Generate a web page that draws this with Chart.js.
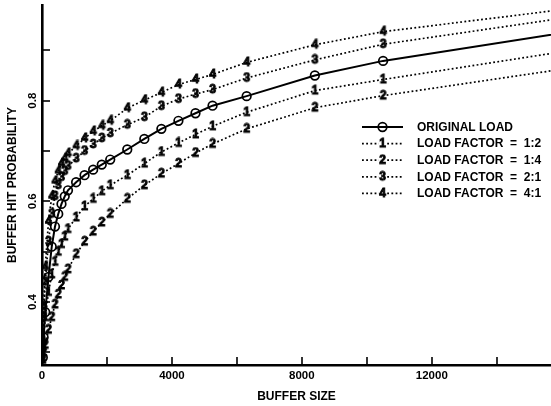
<!DOCTYPE html>
<html>
<head>
<meta charset="utf-8">
<script src="https://cdn.jsdelivr.net/npm/chart.js@4.4.0/dist/chart.umd.min.js"></script>
<style>
  html, body { margin: 0; padding: 0; background: #fff; }
</style>
</head>
<body>
<canvas id="chart" width="551" height="406"></canvas>
<script>
  // ============= DATA =============

  // buffer sizes where every curve was sampled
  const bufferSizes = [25, 50, 100, 200, 300, 400, 500, 600, 700, 800, 1050, 1310, 1575, 1840, 2100, 2625, 3150, 3675, 4200, 4725, 5250, 6300, 8400, 10500, 16800];

  const originalLoad = [0.29, 0.33, 0.38, 0.45, 0.51, 0.55, 0.575, 0.595, 0.61, 0.622, 0.638, 0.652, 0.663, 0.673, 0.683, 0.703, 0.724, 0.744, 0.760, 0.775, 0.790, 0.809, 0.850, 0.879, 0.942];
  const factor1to2 = [0.29, 0.33, 0.37, 0.42, 0.455, 0.48, 0.50, 0.515, 0.53, 0.545, 0.568, 0.59, 0.605, 0.62, 0.632, 0.652, 0.675, 0.698, 0.716, 0.733, 0.749, 0.777, 0.820, 0.842, 0.905];
  const factor1to4 = [0.285, 0.30, 0.315, 0.345, 0.37, 0.395, 0.415, 0.433, 0.45, 0.465, 0.495, 0.52, 0.54, 0.558, 0.575, 0.605, 0.632, 0.655, 0.675, 0.696, 0.714, 0.744, 0.786, 0.810, 0.870];
  const factor2to1 = [0.31, 0.37, 0.44, 0.52, 0.575, 0.61, 0.632, 0.648, 0.66, 0.67, 0.685, 0.70, 0.713, 0.725, 0.735, 0.752, 0.767, 0.789, 0.803, 0.813, 0.822, 0.845, 0.881, 0.912, 0.971];
  const factor4to1 = [0.32, 0.39, 0.47, 0.56, 0.61, 0.64, 0.66, 0.675, 0.685, 0.695, 0.71, 0.725, 0.739, 0.75, 0.76, 0.785, 0.801, 0.816, 0.832, 0.842, 0.852, 0.876, 0.911, 0.937, 0.987];

  const seriesLabels = ['ORIGINAL LOAD', 'LOAD FACTOR  =  1:2', 'LOAD FACTOR  =  1:4', 'LOAD FACTOR  =  2:1', 'LOAD FACTOR  =  4:1'];
  const seriesMarks = ['o', '1', '2', '3', '4'];

  const xTicks = [0, 2000, 4000, 6000, 8000, 10000, 12000, 14000];
  const xLabels = [0, 4000, 8000, 12000];
  const yTicks = [0.3, 0.4, 0.5, 0.6, 0.7, 0.8, 0.9];
  const yLabels = [0.4, 0.6, 0.8];

  // ============= HELPERS =============

  const FONT = '"Liberation Sans", Arial, sans-serif';

  // small canvas holding a heavy digit, used as a point style
  function digitMarker(ch) {
    const c = document.createElement('canvas');
    c.width = 11;
    c.height = 13;
    const g = c.getContext('2d');
    g.fillStyle = '#000';
    g.strokeStyle = '#000';
    g.lineWidth = 0.9;
    g.font = 'bold 12px ' + FONT;
    g.textAlign = 'center';
    g.textBaseline = 'middle';
    g.fillText(ch, 5.5, 7);
    g.strokeText(ch, 5.5, 7);
    return c;
  }

  function pairs(values) {
    return bufferSizes.map((x, i) => ({ x: x, y: values[i] }));
  }

  function dottedSeries(label, values, mark) {
    return {
      label: label,
      data: pairs(values),
      borderColor: '#000',
      borderWidth: 1.7,
      borderDash: [1.8, 2.4],
      pointStyle: digitMarker(mark),
      pointRadius: 5,
      tension: 0
    };
  }

  // inward tick marks, tick labels and the legend box
  const axisDecor = {
    id: 'axisDecor',
    afterDraw(chart) {
      const { ctx, chartArea: area, scales: { x, y } } = chart;
      ctx.save();
      ctx.strokeStyle = '#000';
      ctx.fillStyle = '#000';
      ctx.lineWidth = 1.6;

      xTicks.forEach(v => {
        const px = Math.round(x.getPixelForValue(v));
        ctx.beginPath();
        ctx.moveTo(px, area.bottom);
        ctx.lineTo(px, area.bottom - 8);
        ctx.stroke();
      });
      yTicks.forEach(v => {
        const py = Math.round(y.getPixelForValue(v));
        ctx.beginPath();
        ctx.moveTo(area.left, py);
        ctx.lineTo(area.left + 8, py);
        ctx.stroke();
      });

      ctx.font = 'bold 11.5px ' + FONT;
      ctx.textAlign = 'center';
      ctx.textBaseline = 'middle';
      xLabels.forEach(v => {
        ctx.fillText(String(v), x.getPixelForValue(v), area.bottom + 11);
      });
      yLabels.forEach(v => {
        ctx.save();
        ctx.translate(area.left - 9, y.getPixelForValue(v));
        ctx.rotate(-Math.PI / 2);
        ctx.fillText(v.toFixed(1), 0, 0);
        ctx.restore();
      });

      // legend
      const lx = 362, lw = 41, rowTop = 127, rowGap = 16.6;
      chart.data.datasets.forEach((ds, i) => {
        const ry = rowTop + i * rowGap;
        ctx.save();
        ctx.lineWidth = ds.borderWidth;
        ctx.setLineDash(ds.borderDash || []);
        ctx.beginPath();
        ctx.moveTo(lx, ry);
        ctx.lineTo(lx + lw, ry);
        ctx.stroke();
        ctx.restore();
        const mx = lx + lw / 2;
        if (ds.pointStyle === 'circle') {
          ctx.lineWidth = ds.pointBorderWidth;
          ctx.beginPath();
          ctx.arc(mx, ry, ds.pointRadius, 0, Math.PI * 2);
          ctx.stroke();
        } else {
          const m = ds.pointStyle;
          ctx.fillStyle = '#fff';
          ctx.fillRect(mx - 4, ry - 5, 8, 10);
          ctx.drawImage(m, mx - m.width / 2, ry - m.height / 2);
          ctx.fillStyle = '#000';
        }
        ctx.font = 'bold 12px ' + FONT;
        ctx.textAlign = 'left';
        ctx.fillText(ds.label, lx + 55, ry + 0.5);
      });
      ctx.restore();
    }
  };

  // ============= CHART =============

  new Chart(document.getElementById('chart'), {
    type: 'line',
    data: {
      datasets: [
        {
          label: seriesLabels[0],
          data: pairs(originalLoad),
          borderColor: '#000',
          borderWidth: 2,
          pointStyle: 'circle',
          pointRadius: 4.3,
          pointBorderWidth: 1.7,
          pointBackgroundColor: 'rgba(0,0,0,0)',
          pointBorderColor: '#000',
          tension: 0
        },
        dottedSeries(seriesLabels[1], factor1to2, seriesMarks[1]),
        dottedSeries(seriesLabels[2], factor1to4, seriesMarks[2]),
        dottedSeries(seriesLabels[3], factor2to1, seriesMarks[3]),
        dottedSeries(seriesLabels[4], factor4to1, seriesMarks[4])
      ]
    },
    options: {
      responsive: false,
      devicePixelRatio: 1,
      animation: false,
      layout: { autoPadding: false, padding: { top: 5, right: 0, bottom: 0, left: 0 } },
      plugins: { legend: { display: false }, tooltip: { enabled: false } },
      scales: {
        x: {
          type: 'linear',
          min: 0,
          max: 15670,
          grid: { display: true, drawOnChartArea: false, drawTicks: false },
          border: { display: true, color: '#000', width: 2.6 },
          ticks: { display: false },
          title: {
            display: true,
            text: 'BUFFER SIZE',
            color: '#000',
            font: { family: FONT, size: 12, weight: 'bold' },
            padding: { top: 0, bottom: 2 }
          },
          afterFit: s => { s.height = 41; }
        },
        y: {
          type: 'linear',
          min: 0.275,
          max: 0.99,
          grid: { display: true, drawOnChartArea: false, drawTicks: false },
          border: { display: true, color: '#000', width: 2.6 },
          ticks: { display: false },
          title: {
            display: true,
            text: 'BUFFER HIT PROBABILITY',
            color: '#000',
            font: { family: FONT, size: 12, weight: 'bold' },
            padding: { top: 5, bottom: 0 }
          },
          afterFit: s => { s.width = 42; }
        }
      }
    },
    plugins: [axisDecor]
  });
</script>
</body>
</html>
